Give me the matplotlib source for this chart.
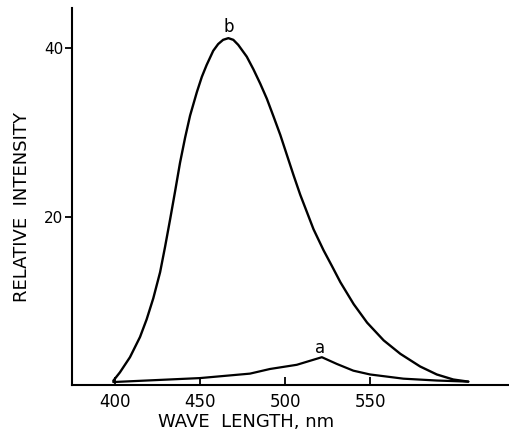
import matplotlib
matplotlib.use("Agg")
import matplotlib.pyplot as plt

# Curve b (strong emission)
b_wl = [399, 402.9, 408.8, 414.7, 418.6, 422.5, 426.5, 429.4, 432.4, 435.3,
        438.2, 441.2, 444.1, 448.1, 451.0, 453.8, 457.7, 460.6, 463.5, 466.6,
        469.5, 472.4, 477.4, 481.3, 485.3, 489.2, 493.1, 497.1, 501.0, 504.9,
        508.8, 512.8, 516.6, 522.5, 527.5, 532.4, 540.2, 548.1, 557.8, 567.6,
        579.2, 589.0, 598.7, 607.5]
b_val = [0.5, 1.5, 3.3, 5.7, 7.8, 10.3, 13.4, 16.4, 19.7, 23.0,
         26.4, 29.4, 32.0, 34.8, 36.6, 38.0, 39.7, 40.5, 41.0, 41.2,
         41.0, 40.4, 39.0, 37.5, 35.8, 34.0, 31.9, 29.7, 27.3, 24.9,
         22.6, 20.5, 18.5, 16.0, 14.1, 12.2, 9.6, 7.4, 5.3, 3.7,
         2.2, 1.25, 0.65, 0.4]

# Curve a (weak emission)
a_wl = [399, 449.9, 479.3, 491.0, 506.8, 521.5, 530.3, 540.0, 549.8, 569.4, 589.0, 607.5]
a_val = [0.35, 0.82, 1.35, 1.9, 2.4, 3.3, 2.5, 1.7, 1.25, 0.75, 0.53, 0.4]

x_ticks = [400, 450, 500, 550]
y_ticks = [20, 40]

fig = plt.figure(figsize=(5.10, 4.36), dpi=100)
ax = fig.add_axes([0.141, 0.117, 0.859, 0.865])

ax.plot(b_wl, b_val, color="black", lw=1.7, solid_capstyle="round", solid_joinstyle="round")
ax.plot(a_wl, a_val, color="black", lw=1.6, solid_capstyle="round", solid_joinstyle="round")

ax.text(466.6, 41.4, "b", fontsize=12, ha="center", va="bottom")
ax.text(520.3, 3.3, "a", fontsize=12, ha="center", va="bottom")

ax.set_xlim(374.7, 632)
ax.set_ylim(0, 44.8)
ax.spines["top"].set_visible(False)
ax.spines["right"].set_visible(False)
ax.spines["left"].set_linewidth(1.5)
ax.spines["bottom"].set_linewidth(1.5)

ax.set_xticks(x_ticks)
ax.set_xticklabels([str(t) for t in x_ticks], fontsize=12)
ax.tick_params(axis="x", direction="in", length=6, width=1.3, pad=6)
ax.set_yticks(y_ticks)
ax.set_yticklabels([str(t) for t in y_ticks], fontsize=11)
ax.tick_params(axis="y", direction="out", length=5, width=1.3, pad=1)

fig.text(246 / 510, 1 - 422 / 436, "WAVE  LENGTH, nm", fontsize=13,
         ha="center", va="center")
fig.text(22 / 510, 1 - 207 / 436, "RELATIVE  INTENSITY", fontsize=13,
         ha="center", va="center", rotation=90)

fig.savefig("out.png", dpi=100)
